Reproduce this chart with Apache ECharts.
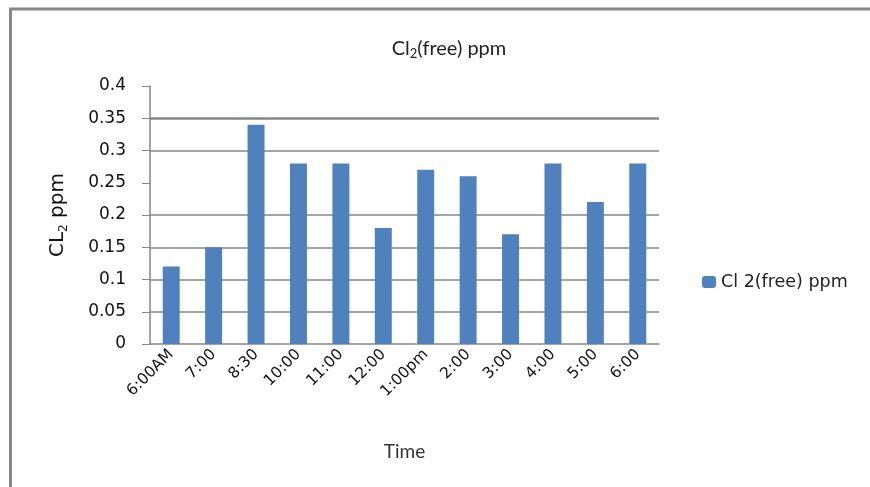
<!DOCTYPE html>
<html>
<head>
<meta charset="utf-8">
<script src="https://cdn.jsdelivr.net/npm/echarts@6/dist/echarts.min.js"></script>
<style>
  html, body { margin: 0; padding: 0; background: #fff; }
  #chart { width: 870px; height: 487px; }
</style>
</head>
<body>
<div id="chart"></div>
<script>
// data
const times = ['6:00AM', '7:00', '8:30', '10:00', '11:00', '12:00', '1:00pm', '2:00', '3:00', '4:00', '5:00', '6:00']
const cl2Free = [0.12, 0.15, 0.34, 0.28, 0.28, 0.18, 0.27, 0.26, 0.17, 0.28, 0.22, 0.28]
// the original only shows these grid lines (0.25 and 0.4 are missing), 0.35 is drawn heavier
const gridLines = [0.05, 0.1, 0.15, 0.2, 0.3]
const heavyLines = [0.35]

const grey = '#868686'

const chart = echarts.init(document.getElementById('chart'))

const option = {
  animation: false,
  backgroundColor: '#fff',
  textStyle: { fontFamily: 'DejaVu Sans' },
  title: {
    text: 'Cl{sub|2}(free) ppm',
    left: 444,
    top: 33,
    textAlign: 'center',
    textStyle: {
      fontFamily: 'Lato',
      fontWeight: 'normal',
      fontSize: 20,
      color: '#222',
      rich: {
        sub: { fontFamily: 'Lato', fontSize: 13, color: '#222', padding: [9, 0, 0, 0] }
      }
    }
  },
  legend: {
    left: 697,
    top: 268,
    itemWidth: 14,
    itemHeight: 12,
    itemGap: 6,
    textStyle: { fontFamily: 'DejaVu Sans', fontSize: 17.5, color: '#222' },
    data: ['Cl 2(free) ppm']
  },
  grid: {
    left: 150,
    right: 211,
    top: 86,
    bottom: 143,
    containLabel: false
  },
  graphic: [
    {
      type: 'polyline',
      shape: { points: [[10.5, 500], [10.5, 9], [880, 9]] },
      style: { stroke: '#888', lineWidth: 3, fill: null }
    }
  ],
  xAxis: {
    type: 'category',
    data: times,
    name: 'Time',
    nameLocation: 'middle',
    nameGap: 98,
    nameTextStyle: { fontFamily: 'Lato', fontSize: 19, color: '#333' },
    axisLine: { lineStyle: { color: grey, width: 1.5 } },
    axisTick: { show: false },
    axisLabel: {
      rotate: 45,
      margin: 8,
      interval: 0,
      fontSize: 15.5,
      color: '#111'
    }
  },
  yAxis: {
    type: 'value',
    min: 0,
    max: 0.4,
    interval: 0.05,
    name: 'CL{sub|2} ppm',
    nameLocation: 'middle',
    nameGap: 80,
    nameRotate: 90,
    nameTextStyle: {
      fontFamily: 'DejaVu Sans',
      fontSize: 20,
      color: '#111',
      rich: {
        sub: { fontFamily: 'DejaVu Sans', fontSize: 12, color: '#111', padding: [12, 0, 0, 0] }
      }
    },
    axisLine: { show: true, lineStyle: { color: grey, width: 1.5 } },
    axisTick: { show: true, length: 8, lineStyle: { color: grey } },
    axisLabel: {
      margin: 24,
      fontSize: 17,
      color: '#111',
      formatter: v => String(Math.round(v * 100) / 100)
    },
    splitLine: { show: false }
  },
  series: [
    {
      name: 'Cl 2(free) ppm',
      type: 'bar',
      data: cl2Free,
      barWidth: '40%',
      z: 3,
      itemStyle: { color: '#4f81bd' },
      markLine: {
        silent: true,
        symbol: 'none',
        label: { show: false },
        z: 1,
        lineStyle: { color: grey, type: 'solid', width: 1.5 },
        data: gridLines.map(v => ({ yAxis: v })).concat(
          heavyLines.map(v => ({ yAxis: v, lineStyle: { width: 2.5 } }))
        )
      }
    }
  ]
}

chart.setOption(option)
</script>
</body>
</html>
